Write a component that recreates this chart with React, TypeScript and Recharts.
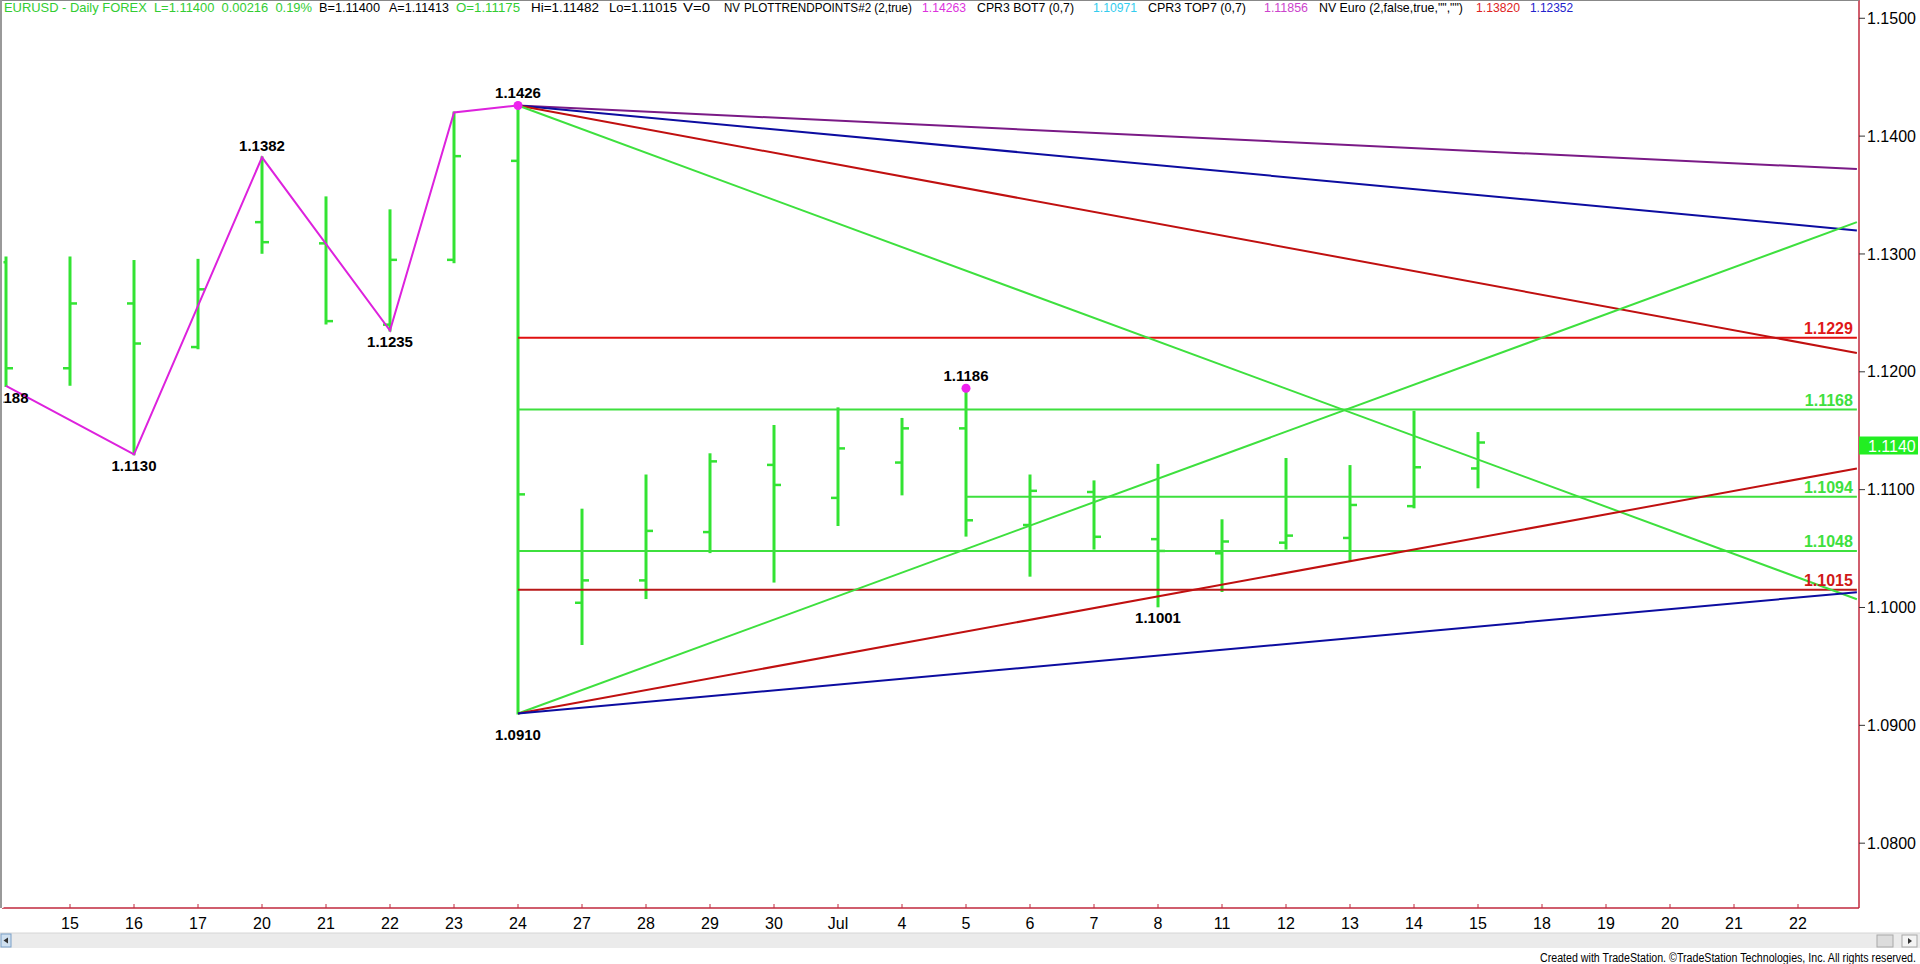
import {
  ComposedChart,
  Bar,
  Line,
  XAxis,
  YAxis,
  ReferenceLine,
  ReferenceDot,
} from "recharts";

// bars: Jun 14 .. Jul 15 (index 0 = Jun 14)
const opens = [1.1293, 1.1203, 1.1258, 1.1221, 1.1327, 1.1309, 1.124, 1.1295, 1.1379, 1.1004, 1.1023, 1.1064, 1.1121, 1.1093, 1.1123, 1.1152, 1.107, 1.1098, 1.1058, 1.1046, 1.1055, 1.1059, 1.1086, 1.1118];
const highs = [1.1297, 1.1297, 1.1294, 1.1295, 1.1382, 1.1348, 1.1337, 1.142, 1.1426, 1.1083, 1.1112, 1.113, 1.1154, 1.1169, 1.116, 1.1186, 1.1112, 1.1107, 1.1121, 1.1074, 1.1126, 1.112, 1.1166, 1.1148];
const lows = [1.1188, 1.1189, 1.113, 1.122, 1.1301, 1.1241, 1.1235, 1.1293, 1.091, 1.0969, 1.1008, 1.1047, 1.1022, 1.107, 1.1096, 1.1061, 1.1027, 1.105, 1.1001, 1.1014, 1.105, 1.104, 1.1085, 1.1102];
const closes = [1.1203, 1.1258, 1.1224, 1.127, 1.131, 1.1243, 1.1295, 1.1383, 1.1096, 1.1023, 1.1065, 1.1124, 1.1104, 1.1135, 1.1152, 1.1074, 1.1099, 1.106, 1.1048, 1.1056, 1.1061, 1.1087, 1.1119, 1.114];

// x axis labels, tick index 1..28
const dayLabels = ["15", "16", "17", "20", "21", "22", "23", "24", "27", "28", "29", "30", "Jul", "4", "5", "6", "7", "8", "11", "12", "13", "14", "15", "18", "19", "20", "21", "22"];
const priceTicks = [1.08, 1.09, 1.1, 1.11, 1.12, 1.13, 1.14, 1.15];

// zigzag swing points
const swingIdx = [0, 2, 4, 6, 7, 8];
const swingPrice = [1.1188, 1.113, 1.1382, 1.1235, 1.142, 1.1426];

// labelled pivots
const pivotIdx = [0, 2, 4, 6, 8, 8, 15, 18];
const pivotPrice = [1.1188, 1.113, 1.1382, 1.1235, 1.1426, 1.091, 1.1186, 1.1001];
const pivotHigh = [false, false, true, false, true, false, true, false];
const markedPivots = [1.1426, 1.1186];

// fan lines from the Jun 24 high / low to the right edge
const fanStart = 8;
const fanEnd = 28.92;
const fanFromHigh = [1.1372, 1.132, 1.1216, 1.1007];
const fanFromHighColors = ["#7a1a86", "#0c0ca0", "#c01010", "#3ee03e"];
const fanFromLow = [1.1327, 1.1118, 1.1013];
const fanFromLowColors = ["#3ee03e", "#c01010", "#0c0ca0"];

// horizontal levels
const levelPrice = [1.1229, 1.1168, 1.1094, 1.1048, 1.1015];
const levelStart = [8, 8, 15, 8, 8];
const levelColors = ["#e01010", "#3ee03e", "#3ee03e", "#3ee03e", "#b81818"];
const levelTextColors = ["#e01818", "#3ee03e", "#3ee03e", "#3ee03e", "#d01818"];

const lastPrice = "1.1140";

// header text: [text, left, width, colour]
const header: [string, number, number, string][] = [
  ["EURUSD - Daily FOREX  L=1.11400  0.00216  0.19%", 4, 308, "#33cc33"],
  ["B=1.11400", 319, 61, "#000"],
  ["A=1.11413", 389, 60, "#000"],
  ["O=1.11175", 456, 64, "#33cc33"],
  ["Hi=1.11482", 531, 68, "#000"],
  ["Lo=1.11015", 609, 68, "#000"],
  ["V=0", 683, 27, "#000"],
  ["NV", 724, 16, "#000"],
  ["PLOTTRENDPOINTS#2 (2,true)", 744, 168, "#000"],
  ["1.14263", 922, 44, "#dd33dd"],
  ["CPR3 BOT7 (0,7)", 977, 97, "#000"],
  ["1.10971", 1093, 44, "#33ccee"],
  ["CPR3 TOP7 (0,7)", 1148, 98, "#000"],
  ["1.11856", 1264, 44, "#cc44cc"],
  ['NV Euro (2,false,true,"","")', 1319, 144, "#000"],
  ["1.13820", 1476, 44, "#dd2222"],
  ["1.12352", 1530, 43, "#2222cc"],
];

const FONT = "'Liberation Sans', Arial, sans-serif";
const GREEN = "#33e333";
const AXIS_RED = "#c0283c";
const X_MIN = -0.0625;
const X_MAX = 28.953;

const bars = opens.map((o, i) => ({
  k: i,
  range: [lows[i], highs[i]],
  open: o,
  high: highs[i],
  low: lows[i],
  close: closes[i],
}));

const swings = swingIdx.map((k, i) => ({ k, p: swingPrice[i] }));

function OhlcShape(props: any) {
  const { x, y, width, height, payload } = props;
  const cx = x + width / 2;
  const top = Math.min(y, y + height);
  const bottom = Math.max(y, y + height);
  const span = payload.high - payload.low;
  const per = span > 0 ? (bottom - top) / span : 0;
  const yo = top + (payload.high - payload.open) * per;
  const yc = top + (payload.high - payload.close) * per;
  return (
    <g stroke={GREEN}>
      <line x1={cx} x2={cx} y1={top - 1} y2={bottom + 1} strokeWidth={3} />
      <line x1={cx - 7} x2={cx} y1={yo} y2={yo} strokeWidth={2.5} />
      <line x1={cx} x2={cx + 7} y1={yc} y2={yc} strokeWidth={2.5} />
    </g>
  );
}

function DayTick(props: any) {
  const { x, y, payload } = props;
  return (
    <g>
      <line x1={x} x2={x} y1={y - 4} y2={y} stroke={AXIS_RED} />
      <text x={x} y={y + 21} textAnchor="middle" fill="#000" fontSize={16} fontFamily={FONT}>
        {dayLabels[payload.value - 1]}
      </text>
    </g>
  );
}

function LastPriceBox(props: any) {
  const { cx, cy } = props;
  return (
    <g>
      <rect x={cx} y={cy - 6} width={59} height={18} fill="#22ee22" />
      <text x={cx + 9} y={cy + 9} fill="#fff" fontSize={16} fontFamily={FONT}>
        {lastPrice}
      </text>
    </g>
  );
}

export default function App() {
  return (
    <div style={{ position: "absolute", left: 0, top: 0, width: 1920, height: 964, background: "#fff" }}>
      <ComposedChart
        width={1920}
        height={964}
        data={bars}
        margin={{ top: 0, right: 0, left: 2, bottom: 0 }}
      >
        <XAxis
          dataKey="k"
          type="number"
          domain={[X_MIN, X_MAX]}
          allowDataOverflow
          ticks={dayLabels.map((_, i) => i + 1)}
          interval={0}
          height={56}
          tickSize={0}
          tickMargin={0}
          tickLine={false}
          axisLine={{ stroke: AXIS_RED, strokeWidth: 1.5 }}
          tick={<DayTick />}
        />
        <YAxis
          orientation="right"
          type="number"
          domain={[1.0745, 1.15155]}
          allowDataOverflow
          ticks={priceTicks}
          interval={0}
          width={61}
          tickSize={6}
          tickMargin={2}
          tickFormatter={(v: number) => v.toFixed(4)}
          tickLine={{ stroke: "#333" }}
          axisLine={{ stroke: AXIS_RED, strokeWidth: 1.5 }}
          tick={{ fill: "#000", fontSize: 16, fontFamily: FONT }}
        />

        {levelPrice.map((p, i) => (
          <ReferenceLine
            key={"lv" + i}
            segment={[
              { x: levelStart[i], y: p },
              { x: fanEnd, y: p },
            ]}
            stroke={levelColors[i]}
            strokeWidth={2}
            label={{
              value: p.toFixed(4),
              position: "insideBottomRight",
              offset: 4,
              fill: levelTextColors[i],
              fontSize: 16,
              fontWeight: "bold",
              fontFamily: FONT,
            }}
          />
        ))}

        {fanFromHigh.map((p, i) => (
          <ReferenceLine
            key={"fh" + i}
            segment={[
              { x: fanStart, y: highs[fanStart] },
              { x: fanEnd, y: p },
            ]}
            stroke={fanFromHighColors[i]}
            strokeWidth={2}
          />
        ))}
        {fanFromLow.map((p, i) => (
          <ReferenceLine
            key={"fl" + i}
            segment={[
              { x: fanStart, y: lows[fanStart] },
              { x: fanEnd, y: p },
            ]}
            stroke={fanFromLowColors[i]}
            strokeWidth={2}
          />
        ))}

        <Bar
          dataKey="range"
          barSize={4}
          shape={<OhlcShape />}
          isAnimationActive={false}
        />

        <Line
          data={swings}
          dataKey="p"
          type="linear"
          stroke="#dd22dd"
          strokeWidth={2}
          dot={false}
          activeDot={false}
          isAnimationActive={false}
        />

        {pivotIdx.map((k, i) => {
          const marked = markedPivots.includes(pivotPrice[i]) && pivotHigh[i];
          const deep = pivotPrice[i] === Math.min(...pivotPrice);
          return (
            <ReferenceDot
              key={"pv" + i}
              x={k}
              y={pivotPrice[i]}
              r={marked ? 4.5 : 0}
              fill="#ee22ee"
              stroke="none"
              label={{
                value: pivotPrice[i].toFixed(4),
                position: pivotHigh[i] ? "top" : "bottom",
                offset: deep ? 16 : marked ? 3 : 6,
                fill: "#000",
                fontSize: 15,
                fontWeight: "bold",
                fontFamily: FONT,
              }}
            />
          );
        })}

        <ReferenceDot
          x={X_MAX}
          y={closes[closes.length - 1]}
          ifOverflow="visible"
          shape={<LastPriceBox />}
        />
      </ComposedChart>

      <svg
        width={1920}
        height={964}
        style={{ position: "absolute", left: 0, top: 0, pointerEvents: "none" }}
      >
        {/* left frame hides what runs past the window edge */}
        <rect x={0} y={0} width={3.5} height={908} fill="#fff" />
        <line x1={0} x2={1859} y1={0.5} y2={0.5} stroke="#888" />
        <line x1={1} x2={1} y1={0} y2={908} stroke="#999" strokeWidth={2} />
        {header.map(([t, x, w, c], i) => (
          <text
            key={i}
            x={x}
            y={12}
            fill={c}
            fontSize={13}
            fontFamily={FONT}
            textLength={w}
            lengthAdjust="spacingAndGlyphs"
            style={{ whiteSpace: "pre" }}
          >
            {t}
          </text>
        ))}
        {/* scrollbar */}
        <rect x={0} y={933} width={1920} height={15} fill="#ebebeb" />
        <line x1={0} x2={1920} y1={933} y2={933} stroke="#d6d6d6" />
        <rect x={1} y={934} width={10} height={13} fill="#cfe0f0" stroke="#7aa0c8" />
        <path d="M3.5 940.5 L8 937.5 L8 943.5 Z" fill="#333" />
        <rect x={1877} y={935} width={16} height={12} fill="#dcdcdc" stroke="#a8a8a8" />
        <rect x={1902} y={935} width={15} height={12} fill="#f4f4f4" stroke="#a8a8a8" />
        <path d="M1908 938 L1912 941 L1908 944 Z" fill="#333" />
        <text
          x={1916}
          y={962}
          textAnchor="end"
          fontSize={12}
          fontFamily={FONT}
          fill="#000"
          textLength={376}
          lengthAdjust="spacingAndGlyphs"
        >
          Created with TradeStation. ©TradeStation Technologies, Inc. All rights reserved.
        </text>
      </svg>
    </div>
  );
}
